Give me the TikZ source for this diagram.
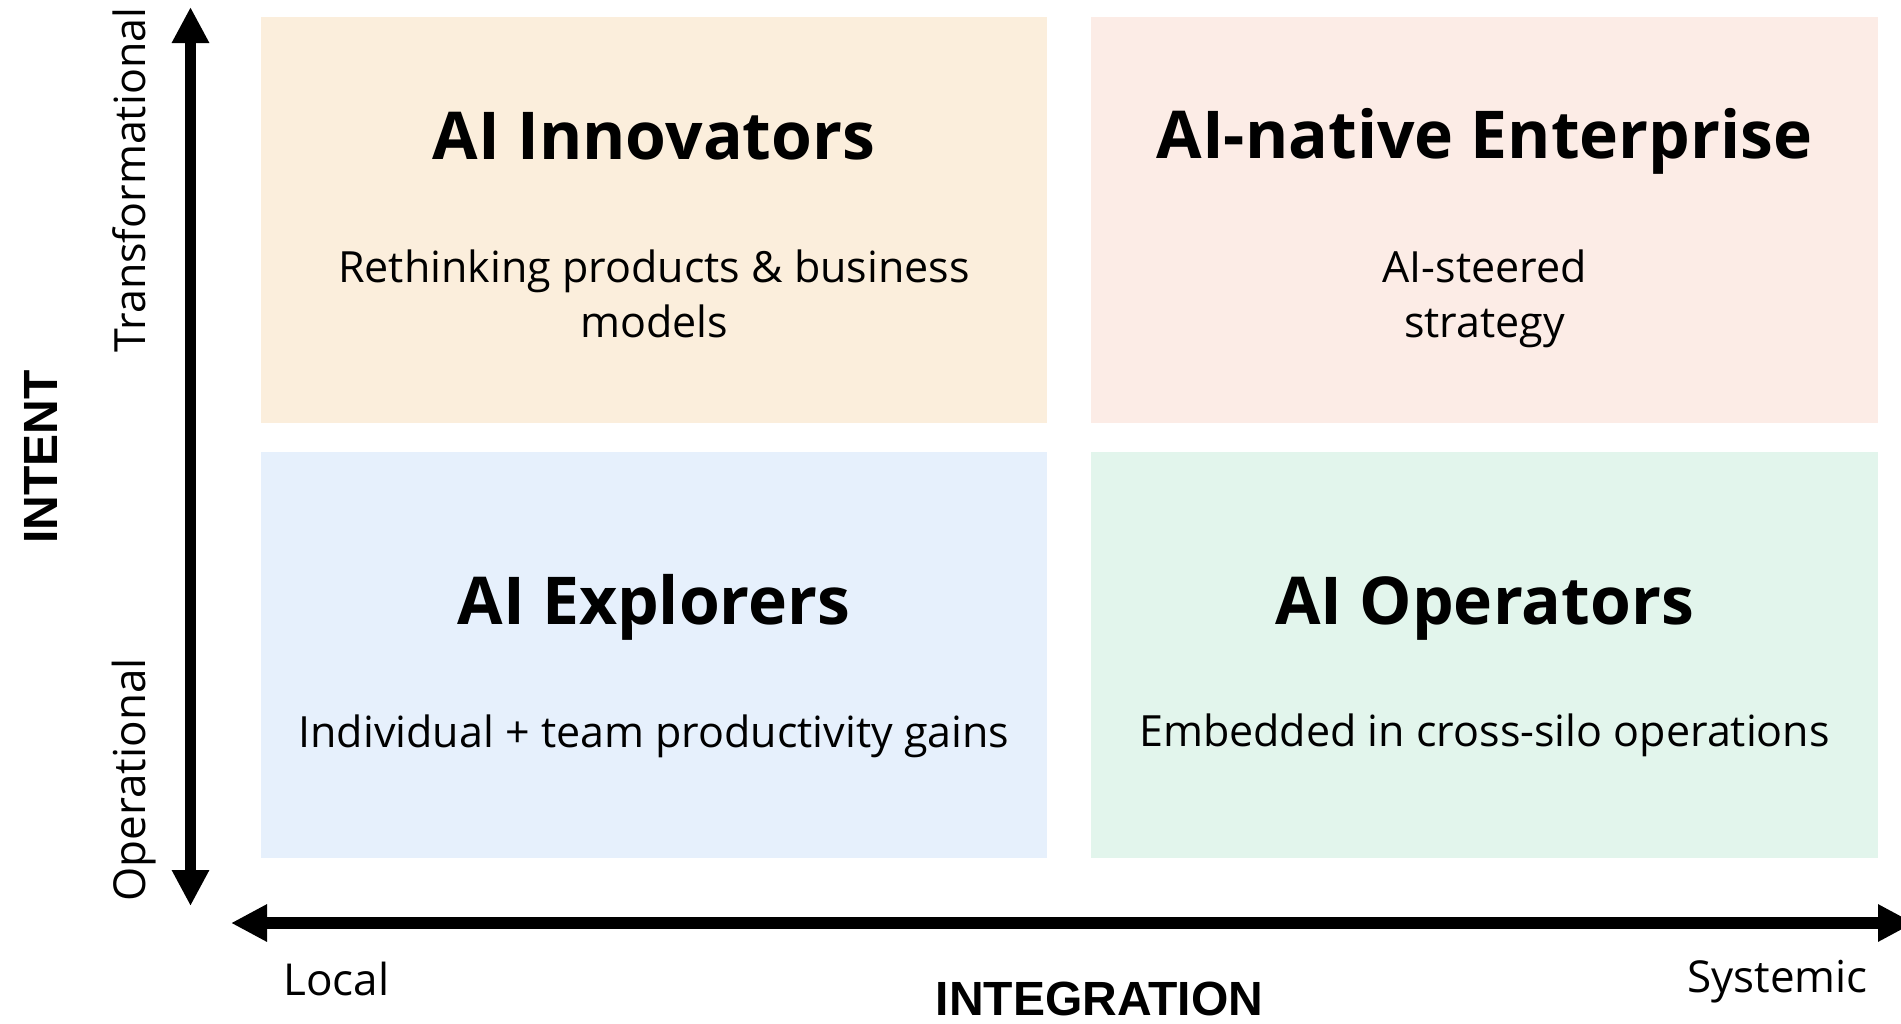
\documentclass[tikz,border=0pt]{standalone}
\usepackage{fontspec}
\setmainfont{Open Sans}
\newfontfamily\axisfont{Liberation Sans}
\usetikzlibrary{arrows.meta}
\definecolor{cTL}{HTML}{FBEEDC}
\definecolor{cTR}{HTML}{FCECE6}
\definecolor{cBL}{HTML}{E6F0FC}
\definecolor{cBR}{HTML}{E2F5EC}
\begin{document}
\begin{tikzpicture}[x=1pt,y=-1pt,
  quad/.style={inner sep=0pt, minimum width=786pt, minimum height=406pt},
  ttl/.style={anchor=base, inner sep=0pt, font=\bfseries\fontsize{66}{80}\selectfont},
  sub/.style={anchor=base, inner sep=0pt, align=center, font=\fontsize{43}{55}\selectfont},
  axlbl/.style={anchor=base, inner sep=0pt, font=\fontsize{44}{54}\selectfont},
  axttl/.style={anchor=base, inner sep=0pt, font=\axisfont\bfseries\fontsize{48}{56}\selectfont},
  axis/.style={line width=11.5pt, {Triangle[length=36pt,width=35pt]}-{Triangle[length=36pt,width=35pt]}}
]
\useasboundingbox (0,0) rectangle (1901,1023);
\fill[white] (0,0) rectangle (1901,1023);
% quadrants
\node[quad, fill=cTL] (tl) at (654,220) {};
\node[quad, fill=cTR, minimum width=787pt] (tr) at (1484.5,220) {};
\node[quad, fill=cBL] (bl) at (654,654.5) {};
\node[quad, fill=cBR, minimum width=787pt] (br) at (1484.5,654.5) {};
% texts
\node[ttl] (tlt) at (654,159) {AI Innovators};
\node[sub] (tls) at (654,337) {Rethinking products \& business\\models};
\node[ttl] (trt) at (1484.5,158) {AI-native Enterprise};
\node[sub] (trs) at (1484.5,337) {AI-steered\\strategy};
\node[ttl] (blt) at (654,624) {AI Explorers};
\node[sub] (bls) at (654,747) {Individual + team productivity gains};
\node[ttl] (brt) at (1484.5,624) {AI Operators};
\node[sub] (brs) at (1484.5,746) {Embedded in cross-silo operations};
% axes
\coordinate (vtop) at (190.5,7);
\coordinate (vbot) at (190.5,906);
\coordinate (hl) at (231,923);
\coordinate (hr) at (1914,923);
\draw[axis] (vbot) -- (vtop);
\draw[axis] (hl) -- (hr);
% axis labels
\node[axlbl, rotate=90, font=\fontsize{43}{50}\selectfont] (transf) at (145,180) {Transformational};
\node[axlbl, rotate=90] (oper) at (145,780) {Operational};
\node[axttl, rotate=90] (intent) at (57,457) {INTENT};
\node[axlbl, anchor=base west] (local) at (283,995) {Local};
\node[axlbl, anchor=base east] (syst) at (1868,992) {Systemic};
\node[axttl] (integ) at (1099.5,1015) {INTEGRATION};
\end{tikzpicture}
\end{document}
